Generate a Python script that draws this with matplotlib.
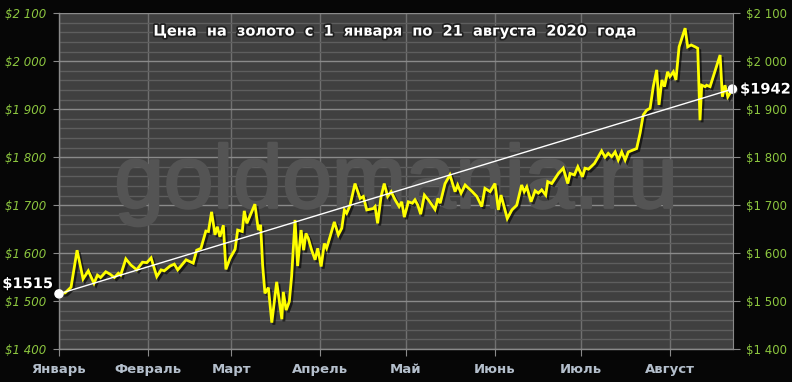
import matplotlib
matplotlib.use("Agg")
import matplotlib.pyplot as plt
import matplotlib.patheffects as pe
from matplotlib.ticker import MultipleLocator, FixedLocator

# ---- data ----
days = [0.0, 2.1, 4.2, 6.3, 8.4, 10.2, 12.2, 13.4, 14.5, 16.3, 17.8, 19.3, 20.7, 21.5,
        23.3, 25.1, 27.1, 29.1, 30.6, 32.1, 34.1, 35.6, 36.7, 38.7, 40.2, 41.4, 44.3,
        46.8, 48.0, 49.5, 51.2, 52.1, 53.2, 54.4, 55.2, 56.1, 57.3, 58.2, 59.6, 61.4,
        62.3, 63.9, 64.6, 65.5, 68.3, 69.5, 70.3, 71.0, 71.8, 73.0, 74.2, 75.9, 77.7,
        78.2, 79.2, 80.3, 81.1, 82.3, 83.2, 84.4, 85.3, 86.1, 86.9, 88.1, 89.3, 90.2,
        91.4, 92.5, 93.3, 94.5, 96.0, 97.4, 98.6, 99.5, 100.3, 101.5, 103.2, 105.0,
        106.1, 107.3, 109.6, 110.2, 111.1, 112.3, 113.4, 114.6, 115.8, 117.2, 118.6,
        119.5, 120.4, 121.8, 123.2, 124.1, 125.1, 126.1, 127.4, 128.8, 131.1, 132.1,
        132.9, 134.6, 136.3, 138.1, 139.0, 140.2, 141.6, 144.1, 145.7, 147.4, 148.5,
        150.3, 152.0, 153.2, 154.1, 156.3, 157.9, 159.6, 161.3, 162.2, 163.1, 164.6,
        166.0, 167.1, 168.3, 169.7, 170.4, 171.8, 174.1, 175.8, 177.4, 178.2, 179.7,
        180.9, 182.5, 183.4, 184.6, 186.7, 189.2, 190.4, 191.5, 192.7, 193.9, 195.0,
        196.2, 197.4, 198.5, 201.4, 202.6, 203.7, 204.9, 206.1, 207.2, 208.4, 209.2,
        210.2, 211.1, 212.2, 213.0, 214.2, 215.1, 216.2, 218.3, 219.2, 220.4, 221.8,
        222.7, 223.5, 224.1, 225.3, 225.8, 227.0, 230.5, 231.3, 232.2, 233.2, 234.8]
prices = [1515, 1517, 1529, 1606, 1546, 1563, 1537, 1554, 1549, 1561, 1556, 1549, 1558, 1554,
          1588, 1575, 1565, 1581, 1580, 1590, 1551, 1565, 1563, 1573, 1577, 1565, 1586,
          1579, 1606, 1610, 1646, 1645, 1686, 1638, 1655, 1634, 1658, 1566, 1589, 1608,
          1648, 1645, 1688, 1662, 1702, 1648, 1659, 1575, 1516, 1528, 1455, 1540, 1462,
          1519, 1481, 1499, 1551, 1669, 1573, 1648, 1606, 1641, 1631, 1606, 1586, 1610,
          1572, 1620, 1610, 1634, 1665, 1638, 1652, 1690, 1683, 1700, 1745, 1714,
          1718, 1690, 1693, 1697, 1662, 1718, 1745, 1718, 1728, 1711, 1697,
          1707, 1675, 1707, 1704, 1711, 1700, 1681, 1721, 1711, 1691, 1714,
          1704, 1745, 1763, 1728, 1742, 1725, 1742, 1728, 1718, 1697, 1735,
          1728, 1745, 1690, 1721, 1672, 1690, 1700, 1742, 1728, 1738, 1707,
          1730, 1725, 1732, 1721, 1749, 1745, 1766, 1777, 1745, 1766, 1763,
          1780, 1759, 1777, 1775, 1787, 1813, 1800, 1808, 1801, 1811, 1794,
          1811, 1794, 1811, 1818, 1850, 1888, 1898, 1902, 1947, 1982, 1909,
          1961, 1947, 1978, 1968, 1978, 1961, 2030, 2069, 2030, 2034, 2030,
          2027, 1877, 1950, 1947, 1950, 1947, 2013, 1926, 1950, 1926, 1942]
month_starts = [0, 31, 60, 91, 121, 152, 182, 213]
month_labels = ["Январь", "Февраль", "Март", "Апрель", "Май", "Июнь", "Июль", "Август"]
y_ticks = [1400, 1500, 1600, 1700, 1800, 1900, 2000, 2100]
y_labels = ["$1 400", "$1 500", "$1 600", "$1 700", "$1 800", "$1 900", "$2 000", "$2 100"]
start_price = 1515
end_price = 1942
title = "Цена  на  золото  с  1  января  по  21  августа  2020  года"
watermark = "goldomania.ru"

# ---- figure ----
W, H = 792, 382
fig = plt.figure(figsize=(W / 100, H / 100), dpi=100, facecolor="#060606")
ax = fig.add_axes([59 / W, 1 - 349 / H, (733 - 59) / W, (349 - 13.3) / H])
ax.set_facecolor("#404040")
ax.set_xlim(0, 235)
ax.set_ylim(1400, 2100)

# grid
ax.yaxis.set_major_locator(FixedLocator(y_ticks))
ax.yaxis.set_minor_locator(MultipleLocator(20))
ax.xaxis.set_major_locator(FixedLocator(month_starts))
ax.grid(which="major", axis="y", color="#8a8a8a", lw=1.0, zorder=0)
ax.grid(which="minor", axis="y", color="#5e5e5e", lw=1.0, zorder=0)
ax.grid(which="major", axis="x", color="#707070", lw=1.0, zorder=0)
ax.set_axisbelow(True)

for s in ["top", "right"]:
    ax.spines[s].set_visible(False)
for s in ["left", "bottom"]:
    ax.spines[s].set_color("#8a8a8a")
    ax.spines[s].set_linewidth(1.0)

green = "#8cc63f"
ax.set_yticklabels(y_labels, color=green, fontsize=8.5, style="italic",
                   family="DejaVu Sans")
ax.tick_params(axis="y", which="major", length=4, color="#8a8a8a", pad=5)
ax.tick_params(axis="y", which="minor", length=0)
ax.set_xticklabels(month_labels, color="#b4bfcc", fontsize=9.5, fontweight="bold",
                   family="DejaVu Sans")
ax.tick_params(axis="x", which="major", length=5, color="#8a8a8a", pad=5)

ax2 = ax.twinx()
ax2.set_ylim(1400, 2100)
ax2.yaxis.set_major_locator(FixedLocator(y_ticks))
ax2.set_yticklabels(y_labels, color=green, fontsize=8.5, family="DejaVu Sans")
ax2.tick_params(axis="y", length=5, color="#8a8a8a", pad=4)
for s in ["top", "left", "bottom"]:
    ax2.spines[s].set_visible(False)
ax2.spines["right"].set_color("#8a8a8a")

# watermark
ax.text(0.5, 0.49, watermark, transform=ax.transAxes, ha="center", va="center",
        fontsize=64, color="#545454", family="Liberation Sans", zorder=1,
        path_effects=[pe.withStroke(linewidth=2, foreground="#545454")])

# title
ax.text(0.5, 0.947, title, transform=ax.transAxes, ha="center", va="center",
        fontsize=10.5, fontweight="bold", color="white", family="DejaVu Sans", zorder=6,
        path_effects=[pe.withStroke(linewidth=2.5, foreground="#202020")])

# price line
ax.plot(days, prices, color="#ffff00", lw=2.0, zorder=4, solid_joinstyle="miter",
        path_effects=[pe.SimpleLineShadow(offset=(1.5, -1.5), shadow_color="black", alpha=0.6),
                      pe.Normal()])

# trend line
ax.plot([days[0], days[-1]], [start_price, end_price], color="white", lw=1.0, zorder=5)
ax.scatter([days[0], days[-1]], [start_price, end_price], s=34, color="white",
           zorder=7, clip_on=False,
           path_effects=[pe.SimplePatchShadow(offset=(1, -1), alpha=0.6), pe.Normal()])

lab_eff = [pe.withStroke(linewidth=2.5, foreground="black")]
ax.annotate(f"${start_price}", (days[0], start_price), xytext=(-4, 2),
            textcoords="offset points", ha="right", va="bottom", fontsize=10.5,
            fontweight="bold", color="white", family="DejaVu Sans",
            annotation_clip=False, path_effects=lab_eff, zorder=8)
ax.annotate(f"${end_price}", (days[-1], end_price), xytext=(5.5, 0),
            textcoords="offset points", ha="left", va="center", fontsize=10.5,
            fontweight="bold", color="white", family="DejaVu Sans",
            annotation_clip=False, path_effects=lab_eff, zorder=8)

fig.savefig("out.png", dpi=100, facecolor=fig.get_facecolor())
